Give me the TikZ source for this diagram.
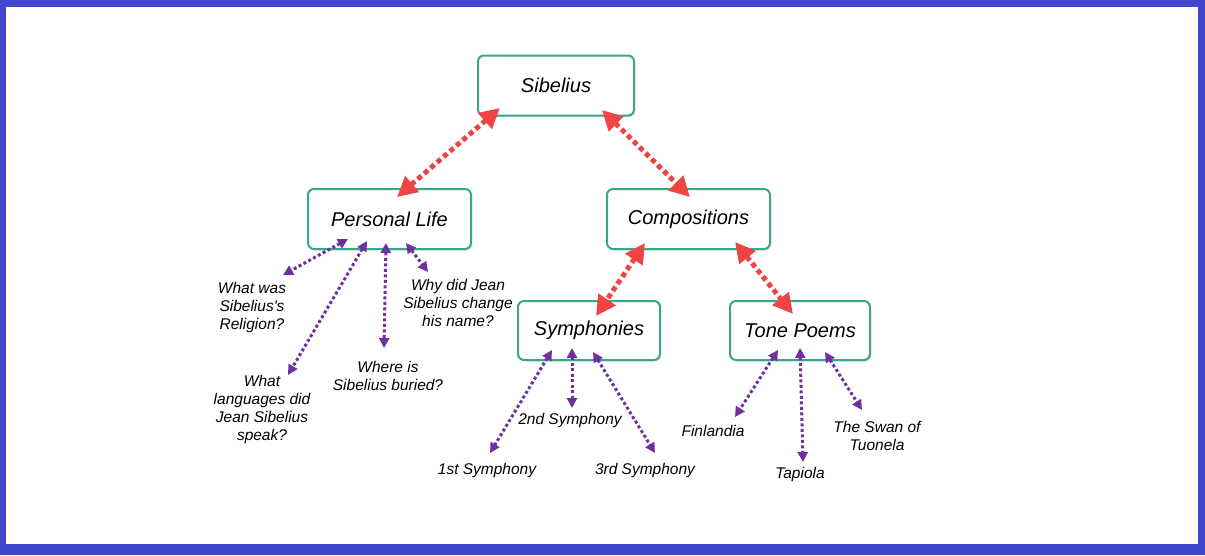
\documentclass[tikz,border=0pt]{standalone}
\usepackage{fontspec}
\setmainfont{Liberation Sans}[Ligatures=TeXOff]
\usetikzlibrary{arrows.meta,shadows}
\definecolor{frameblue}{RGB}{65,70,205}
\definecolor{boxteal}{RGB}{56,168,140}
\definecolor{arrred}{RGB}{240,68,68}
\definecolor{arrpurple}{RGB}{112,48,160}
\tikzset{
  topic/.style={draw=boxteal, line width=2pt, rounded corners=6pt, fill=white,
    minimum height=60pt, inner sep=0pt, font=\fontsize{20}{22}\selectfont\itshape,
    drop shadow={shadow xshift=1pt, shadow yshift=-1.5pt, opacity=0.25}},
  leaf/.style={align=center, inner sep=0pt, font=\fontsize{15.5}{18}\selectfont\itshape},
  redarr/.style={draw=arrred, line width=5pt, dash pattern=on 5pt off 3.5pt,
    {Triangle[length=20pt,width=20pt,fill=arrred]}-{Triangle[length=20pt,width=20pt,fill=arrred]}},
  purarr/.style={draw=arrpurple, line width=3pt, dash pattern=on 3pt off 2.5pt,
    {Triangle[length=10pt,width=10pt,fill=arrpurple]}-{Triangle[length=10pt,width=10pt,fill=arrpurple]}}
}
\begin{document}
\begin{tikzpicture}[x=1pt,y=-1pt]
\fill[frameblue] (0,0) rectangle (1205,555);
\fill[white] (6,7) rectangle (1198,544);
\useasboundingbox (0,0) rectangle (1205,555);

% topic boxes
\node[topic, minimum width=156pt] (sib) at (556,85.5) {Sibelius};
\node[topic, minimum width=163pt] (pl) at (389.5,219) {Personal Life};
\node[topic, minimum width=163pt] (comp) at (688.5,219) {Compositions};
\node[topic, minimum width=142pt, minimum height=59pt] (sym) at (589,330.5) {Symphonies};
\node[topic, minimum width=140pt, minimum height=59pt] (tone) at (800,330.5) {Tone Poems};

% leaf texts
\node[leaf] (rel) at (252,307) {What was\\Sibelius's\\Religion?};
\node[leaf] (lang) at (262,409) {What\\languages did\\Jean Sibelius\\speak?};
\node[leaf] (bur) at (388,376) {Where is\\Sibelius buried?};
\node[leaf] (name) at (458,303) {Why did Jean\\Sibelius change\\his name?};
\node[leaf] (s1) at (487,470) {1st Symphony};
\node[leaf] (s2) at (570,420) {2nd Symphony};
\node[leaf] (s3) at (645,470) {3rd Symphony};
\node[leaf] (fin) at (713,431) {Finlandia};
\node[leaf] (tap) at (800,474) {Tapiola};
\node[leaf] (swan) at (877,436) {The Swan of\\Tuonela};

% connector end points
\coordinate (sibA) at (500,108);  \coordinate (plA) at (397,197);
\coordinate (sibB) at (602,110);  \coordinate (compA) at (690,197);
\coordinate (compB) at (645,243); \coordinate (symA) at (596,316);
\coordinate (compC) at (735,242); \coordinate (toneA) at (793,314);

\coordinate (pl1) at (348,239); \coordinate (rel1) at (283,275);
\coordinate (pl2) at (367,241); \coordinate (lang1) at (288,375);
\coordinate (pl3) at (386,243); \coordinate (bur1) at (384,348);
\coordinate (pl4) at (406,243); \coordinate (name1) at (428,272);

\coordinate (sym1) at (552,350); \coordinate (s1a) at (490,453);
\coordinate (sym2) at (572,348); \coordinate (s2a) at (572,408);
\coordinate (sym3) at (593,352); \coordinate (s3a) at (655,453);

\coordinate (tone1) at (778,350); \coordinate (fina) at (735,417);
\coordinate (tone2) at (800,348); \coordinate (tapa) at (803,462);
\coordinate (tone3) at (825,352); \coordinate (swana) at (862,410);

% red connectors
\draw[redarr] (sibA) -- (plA);
\draw[redarr] (sibB) -- (compA);
\draw[redarr] (compB) -- (symA);
\draw[redarr] (compC) -- (toneA);

% purple connectors
\draw[purarr] (pl1) -- (rel1);
\draw[purarr] (pl2) -- (lang1);
\draw[purarr] (pl3) -- (bur1);
\draw[purarr] (pl4) -- (name1);
\draw[purarr] (sym1) -- (s1a);
\draw[purarr] (sym2) -- (s2a);
\draw[purarr] (sym3) -- (s3a);
\draw[purarr] (tone1) -- (fina);
\draw[purarr] (tone2) -- (tapa);
\draw[purarr] (tone3) -- (swana);
\end{tikzpicture}
\end{document}
